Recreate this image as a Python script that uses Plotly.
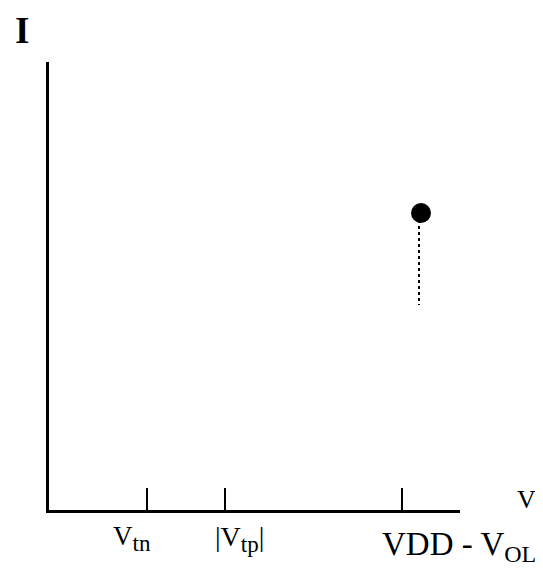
import plotly.graph_objects as go

# Data
tick_x = [0.98, 1.76, 3.53]
tick_main = ["V", "|V", "VDD - V"]
tick_sub = ["tn", "tp", "OL"]
tick_tail = ["", "|", ""]
point_x = [3.72]
point_y = [2.97]
drop_x = [3.70, 3.70]
drop_y = [2.90, 2.05]
x_title = "V"
y_title = "I"

FONT = "Liberation Serif"
OFF = 8  # body margin of the html page

L, T = 49 - OFF, 62 - OFF
PW, PH = 411, 448
W, H = 543, 575
R, B = W - L - PW, H - T - PH

fig = go.Figure()
fig.add_trace(go.Scatter(x=drop_x, y=drop_y, mode="lines",
                         line=dict(color="black", width=2, dash="dot"),
                         hoverinfo="skip", showlegend=False))
fig.add_trace(go.Scatter(x=point_x, y=point_y, mode="markers",
                         marker=dict(color="black", size=20),
                         hoverinfo="skip", showlegend=False))

# (main size, sub size, xshift, yshift)
styles = [
    (27, 23, -36, -9),
    (28, 23, -12, -9),
    (33, 24, -22, -14),
]
for xv, m, s, t, (fs, ss, xs, ys) in zip(tick_x, tick_main, tick_sub, tick_tail, styles):
    txt = f'{m}<sub><span style="font-size:{ss}px">{s}</span></sub>{t}'
    fig.add_annotation(x=xv, y=0, xref="x", yref="y", text=txt, showarrow=False,
                       xanchor="left", yanchor="top", xshift=xs, yshift=ys,
                       font=dict(family=FONT, size=fs, color="black"))


def px(xp, yp):
    return (xp - OFF - L) / PW, (H - (yp - OFF) - B) / PH


ax, ay = px(515, 483)
fig.add_annotation(x=ax, y=ay, xref="paper", yref="paper", text=x_title,
                   showarrow=False, xanchor="left", yanchor="top",
                   font=dict(family=FONT, size=26, color="black"))
ix, iy = px(13, 8)
fig.add_annotation(x=ix, y=iy, xref="paper", yref="paper", text="<b>" + y_title + "</b>",
                   showarrow=False, xanchor="left", yanchor="top",
                   font=dict(family=FONT, size=37, color="black"))

fig.update_layout(
    width=W, height=H,
    margin=dict(l=L, r=R, t=T, b=B),
    plot_bgcolor="white", paper_bgcolor="white",
    xaxis=dict(range=[0, 4.11], showgrid=False, zeroline=False,
               showline=True, linecolor="black", linewidth=3,
               tickvals=tick_x, ticks="inside", ticklen=22, tickwidth=2,
               tickcolor="black", showticklabels=False, fixedrange=True),
    yaxis=dict(range=[0, 4.48], showgrid=False, zeroline=False,
               showline=True, linecolor="black", linewidth=3,
               showticklabels=False, ticks="", fixedrange=True),
)

fig.write_html("out.html")
